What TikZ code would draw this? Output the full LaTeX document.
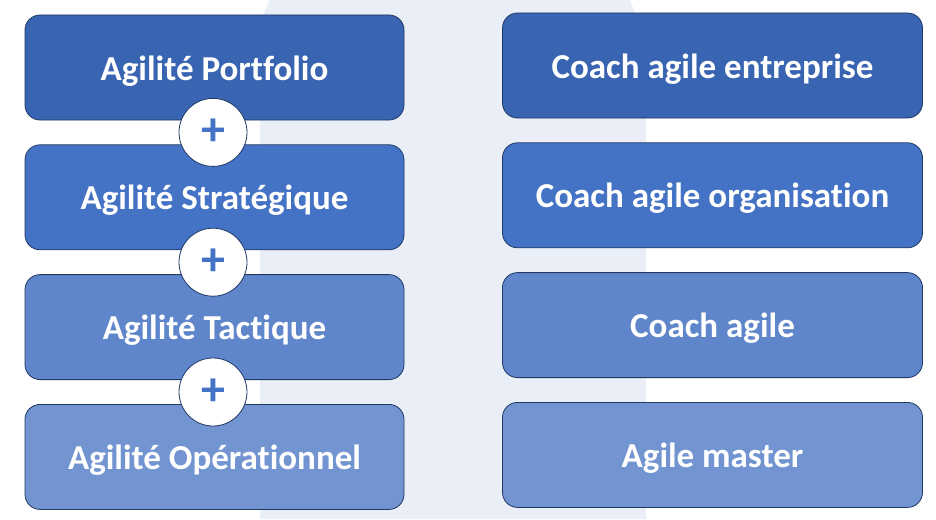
\documentclass[tikz,border=0pt]{standalone}
\definecolor{lvlone}{RGB}{57,100,177}
\definecolor{lvltwo}{RGB}{68,114,196}
\definecolor{lvlthree}{RGB}{95,134,203}
\definecolor{lvlfour}{RGB}{114,149,210}
\definecolor{boxedge}{RGB}{31,56,100}
\definecolor{bandbg}{RGB}{234,238,247}
\usepackage{fontspec}
\setmainfont{Carlito}[Ligatures=NoCommon]
\usepackage{tikz}
\usetikzlibrary{positioning}

\begin{document}
\begin{tikzpicture}[x=1pt, y=-1pt,
      lvl/.style={draw=boxedge, line width=0.8pt, rounded corners=15pt,
                  minimum width=379pt, minimum height=105pt,
                  text height=32pt, text depth=7pt,
                  text=white, font=\fontsize{35}{40}\selectfont\bfseries},
      coach/.style={lvl, minimum width=420pt},
      joint/.style={circle, draw=boxedge, line width=0.8pt, fill=white,
                    minimum size=68pt, inner sep=0pt, text=lvltwo,
                    font=\fontsize{48}{48}\selectfont\bfseries}
  ]
    \useasboundingbox (0,0) rectangle (936,519);
    \fill[bandbg] (260,519) -- (260,22) -- (270,0) -- (630,0) -- (646,42) -- (646,519) -- cycle;
    % levels of agility
    \node[lvl, fill=lvlone] (port) at (214.5,67.5) {Agilité Portfolio};
    \node[lvl, fill=lvltwo, below=24pt of port] (strat) {Agilité Stratégique};
    \node[lvl, fill=lvlthree, below=24pt of strat] (tact) {Agilité Tactique};
    \node[lvl, fill=lvlfour, below=24pt of tact] (oper) {Agilité Opérationnel};
    % coaching roles
    \node[coach, fill=lvlone] (entr) at (712.5,65.5) {Coach agile entreprise};
    \node[coach, fill=lvltwo, below=24pt of entr] (orga) {Coach agile organisation};
    \node[coach, fill=lvlthree, below=24pt of orga] (coach) {Coach agile};
    \node[coach, fill=lvlfour, below=24pt of coach] (master) {Agile master};
    % plus signs
    \path (port.south) -- (strat.north) node[joint, midway, xshift=-1.5pt] (plusa) {+};
    \path (strat.south) -- (tact.north) node[joint, midway, xshift=-1.5pt] (plusb) {+};
    \path (tact.south) -- (oper.north) node[joint, midway, xshift=-1.5pt] (plusc) {+};
  \end{tikzpicture}
\end{document}
